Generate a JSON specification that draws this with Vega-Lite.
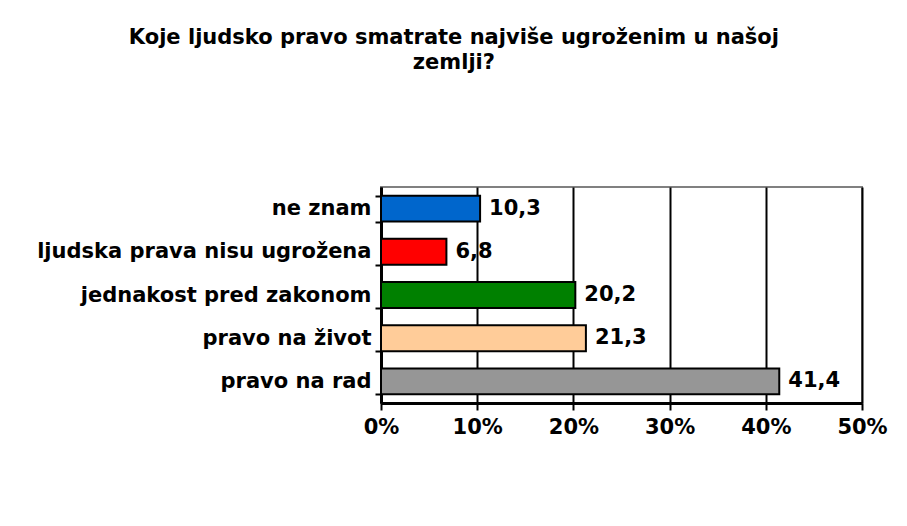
{
  "$schema": "https://vega.github.io/schema/vega-lite/v6.json",
  "width": 481,
  "height": 216,
  "padding": {"left": 36, "top": 27, "right": 5, "bottom": 5},
  "background": "white",
  "title": {
    "text": ["Koje ljudsko pravo smatrate najviše ugroženim u našoj", "zemlji?"],
    "font": "DejaVu Sans",
    "fontSize": 21,
    "fontWeight": "bold",
    "color": "black",
    "anchor": "middle",
    "frame": "bounds",
    "lineHeight": 25,
    "dx": -8,
    "offset": 103
  },
  "data": {
    "values": [
      {"cat": "ne znam", "value": 10.3},
      {"cat": "ljudska prava nisu ugrožena", "value": 6.8},
      {"cat": "jednakost pred zakonom", "value": 20.2},
      {"cat": "pravo na život", "value": 21.3},
      {"cat": "pravo na rad", "value": 41.4}
    ]
  },
  "encoding": {
    "y": {
      "field": "cat",
      "type": "nominal",
      "sort": ["ne znam", "ljudska prava nisu ugrožena", "jednakost pred zakonom", "pravo na život", "pravo na rad"],
      "scale": {"paddingInner": 0.4, "paddingOuter": 0.2},
      "axis": {
        "title": null,
        "tickBand": "extent",
        "domainColor": "black",
        "domainWidth": 3,
        "tickColor": "black",
        "tickWidth": 2,
        "tickSize": 6,
        "labelPadding": 4,
        "labelLimit": 500,
        "labelFont": "DejaVu Sans",
        "labelFontSize": 21,
        "labelFontWeight": "bold",
        "labelColor": "black"
      }
    },
    "x": {
      "field": "value",
      "type": "quantitative",
      "scale": {"domain": [0, 50], "nice": false},
      "axis": {
        "title": null,
        "values": [0, 10, 20, 30, 40, 50],
        "labelExpr": "datum.value + '%'",
        "labelFlush": false,
        "labelOverlap": false,
        "grid": true,
        "gridColor": "black",
        "gridWidth": 2,
        "domainColor": "black",
        "domainWidth": 3,
        "tickColor": "black",
        "tickWidth": 2,
        "tickSize": 7,
        "labelPadding": 6,
        "labelFont": "DejaVu Sans",
        "labelFontSize": 21,
        "labelFontWeight": "bold",
        "labelColor": "black"
      }
    }
  },
  "layer": [
    {
      "mark": {"type": "bar", "stroke": "black", "strokeWidth": 2},
      "encoding": {
        "color": {
          "field": "cat",
          "type": "nominal",
          "scale": {
            "domain": ["ne znam", "ljudska prava nisu ugrožena", "jednakost pred zakonom", "pravo na život", "pravo na rad"],
            "range": ["#0066CC", "#FF0000", "#008000", "#FFCC99", "#969696"]
          },
          "legend": null
        }
      }
    },
    {
      "mark": {
        "type": "text",
        "align": "left",
        "baseline": "middle",
        "dx": 9,
        "font": "DejaVu Sans",
        "fontSize": 21,
        "fontWeight": "bold",
        "color": "black"
      },
      "encoding": {
        "text": {"field": "value", "type": "quantitative", "format": ".1f"}
      }
    }
  ],
  "config": {
    "view": {"stroke": "#808080", "strokeWidth": 2},
    "locale": {
      "number": {"decimal": ",", "thousands": ".", "grouping": [3], "currency": ["", " €"]}
    }
  }
}
